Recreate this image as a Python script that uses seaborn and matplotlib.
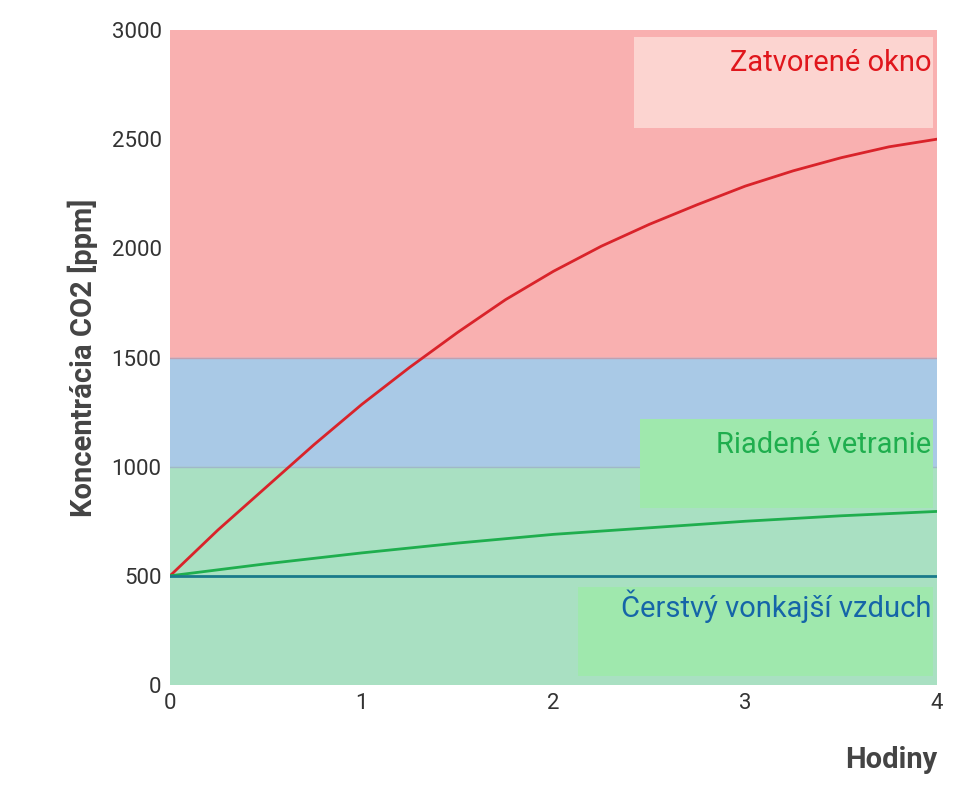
import matplotlib
matplotlib.use("Agg")
import matplotlib.pyplot as plt
import seaborn as sns
import pandas as pd

hours_red = [0, 0.25, 0.5, 0.75, 1, 1.25, 1.5, 1.75, 2, 2.25, 2.5, 2.75, 3, 3.25, 3.5, 3.75, 4]
closed_window = [500, 710, 905, 1100, 1285, 1455, 1615, 1765, 1895, 2010, 2110, 2200, 2285, 2355, 2415, 2465, 2500]
hours_green = [0, 0.5, 1, 1.5, 2, 2.5, 3, 3.5, 4]
controlled_vent = [500, 555, 605, 650, 690, 720, 750, 775, 795]
hours_blue = [0, 4]
fresh_air = [500, 500]

plt.rcParams["font.family"] = "Roboto"
fig = plt.figure(figsize=(9.70, 8.01), dpi=100)
ax = fig.add_axes([170/970, 1-685/801, 767/970, 655/801])

ax.axhspan(1500, 3000, color="#f9b0b0", zorder=0)
ax.axhspan(1000, 1500, color="#a9c9e6", zorder=0)
ax.axhspan(0, 1000, color="#a9e0c2", zorder=0)
ax.axhline(1500, color="#c0a0b0", lw=1, zorder=1)
ax.axhline(1000, color="#a0b8c8", lw=1, zorder=1)

df_r = pd.DataFrame({"h": hours_red, "v": closed_window})
df_g = pd.DataFrame({"h": hours_green, "v": controlled_vent})
df_b = pd.DataFrame({"h": hours_blue, "v": fresh_air})
sns.lineplot(data=df_r, x="h", y="v", ax=ax, color="#d9232a", lw=2, zorder=3)
sns.lineplot(data=df_g, x="h", y="v", ax=ax, color="#1fae4e", lw=2, zorder=3)
sns.lineplot(data=df_b, x="h", y="v", ax=ax, color="#1a7a8a", lw=2, zorder=3)

def box(x0, y0, x1, y1, c):
    ax.add_patch(plt.Rectangle((x0, y0), x1 - x0, y1 - y0, color=c, zorder=2, lw=0))
box(2.42, 2550, 3.98, 2970, "#fcd4d0")
box(2.45, 810, 3.98, 1220, "#9fe8ad")
box(2.13, 40, 3.98, 450, "#9fe8ad")
ax.text(3.97, 2850, "Zatvorené okno", color="#e0161c", fontsize=21, ha="right", va="center", zorder=4)
ax.text(3.97, 1100, "Riadené vetranie", color="#1fae4e", fontsize=21, ha="right", va="center", zorder=4)
ax.text(3.97, 360, "Čerstvý vonkajší vzduch", color="#1565a8", fontsize=21, ha="right", va="center", zorder=4)

ax.set_xlim(0, 4)
ax.set_ylim(0, 3000)
ax.set_xticks([0, 1, 2, 3, 4])
ax.set_yticks(range(0, 3001, 500))
ax.tick_params(labelsize=16, colors="#333333", length=0, pad=6)
for s in ax.spines.values():
    s.set_visible(False)
ax.set_xlabel("")
ax.set_ylabel("Koncentrácia CO2 [ppm]", fontsize=21, fontweight="bold", color="#444444", labelpad=10)
fig.text(937/970, 1-760/801, "Hodiny", fontsize=21, fontweight="bold", color="#444444", ha="right", va="center")
fig.savefig("out.png", dpi=100)
